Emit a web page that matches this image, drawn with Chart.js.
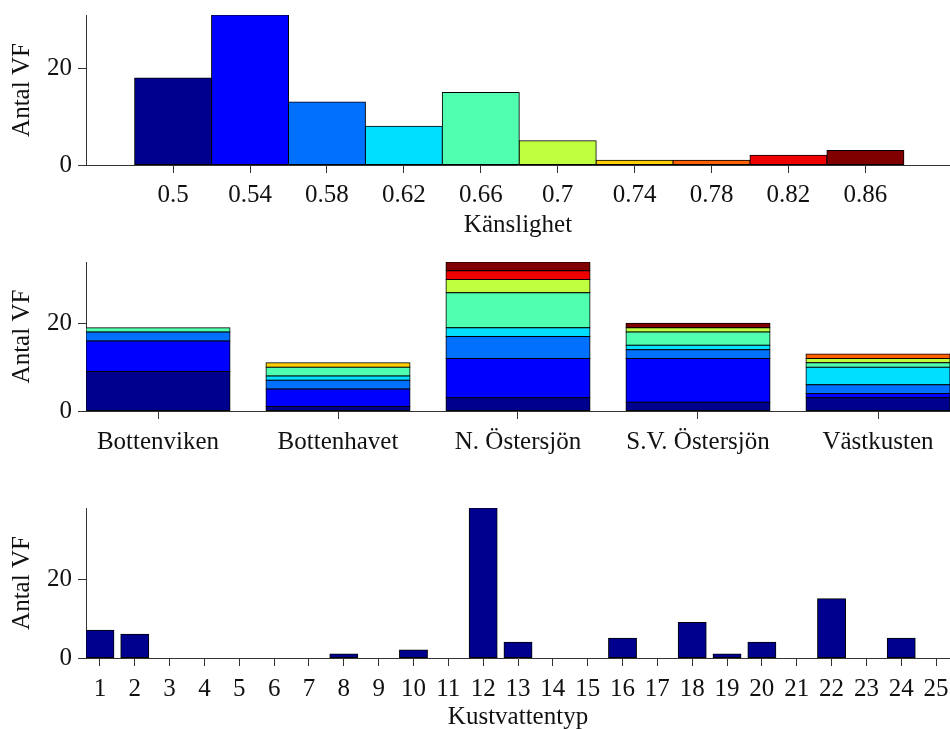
<!DOCTYPE html>
<html>
<head>
<meta charset="utf-8">
<script src="https://cdn.jsdelivr.net/npm/chart.js@4"></script>
<style>
  html, body { margin: 0; padding: 0; background: #fff; overflow: hidden; width: 950px; height: 729px; }
  canvas { position: absolute; left: 0; }
</style>
</head>
<body>
<canvas id="c1" width="950" height="245" style="top:0px"></canvas>
<canvas id="c2" width="950" height="235" style="top:245px"></canvas>
<canvas id="c3" width="950" height="262" style="top:480px"></canvas>
<script>
// ---------- data ----------
const sensValues = [0.5, 0.54, 0.58, 0.62, 0.66, 0.7, 0.74, 0.78, 0.82, 0.86];
const sensLabels = ['0.5', '0.54', '0.58', '0.62', '0.66', '0.7', '0.74', '0.78', '0.82', '0.86'];
const sensCounts = [18, 31, 13, 8, 15, 5, 1, 1, 2, 3];
const sensColors = ['#00008F', '#0000FF', '#0070FF', '#00DFFF', '#50FFAF', '#C0FF40', '#FFCF00', '#FF6000', '#EF0000', '#800000'];

const regions = ['Bottenviken', 'Bottenhavet', 'N. Östersjön', 'S.V. Östersjön', 'Västkusten'];
const reg050 = [9, 1, 3, 2, 3];
const reg054 = [7, 4, 9, 10, 1];
const reg058 = [2, 2, 5, 2, 2];
const reg062 = [0, 1, 2, 1, 4];
const reg066 = [1, 2, 8, 3, 1];
const reg070 = [0, 0, 3, 1, 1];
const reg074 = [0, 1, 0, 0, 0];
const reg078 = [0, 0, 0, 0, 1];
const reg082 = [0, 0, 2, 0, 0];
const reg086 = [0, 0, 2, 1, 0];
const regionStacks = [reg050, reg054, reg058, reg062, reg066, reg070, reg074, reg078, reg082, reg086];

const typeLabels = ['1','2','3','4','5','6','7','8','9','10','11','12','13','14','15','16','17','18','19','20','21','22','23','24','25'];
const typeCounts = [7, 6, 0, 0, 0, 0, 0, 1, 0, 2, 0, 38, 4, 0, 0, 5, 0, 9, 1, 4, 0, 15, 0, 5, 0];

const yTicks = [0, 20];

// ---------- common styling ----------
const FONT = { family: '"Liberation Serif", "Times New Roman", serif', size: 25 };
const AXIS = '#333333';
const TEXT = '#111111';
const EDGE = '#000000';

function yAxis(max) {
  return {
    type: 'linear', min: 0, max: max,
    afterBuildTicks: s => { s.ticks = yTicks.map(v => ({ value: v })); },
    afterFit: s => { s.width = 86; s.paddingTop = 0; s.paddingBottom = 0; },
    ticks: { font: FONT, color: TEXT, padding: 6 },
    grid: { drawOnChartArea: false, drawTicks: true, tickLength: 8, color: AXIS },
    border: { display: true, color: AXIS, width: 1 },
    title: { display: true, text: 'Antal VF', font: FONT, color: TEXT, padding: { top: 7, bottom: 0 } }
  };
}

function xAxis(min, max, values, labels, height, pad, title, titlePad) {
  const ax = {
    type: 'linear', min: min, max: max, offset: false,
    afterBuildTicks: s => { s.ticks = values.map(v => ({ value: v })); },
    afterFit: s => { s.height = height; s.paddingLeft = 0; s.paddingRight = 0; },
    ticks: { font: FONT, color: TEXT, padding: pad, autoSkip: false, maxRotation: 0, minRotation: 0,
             callback: (v, i) => labels[i] },
    grid: { offset: false, drawOnChartArea: false, drawTicks: true, tickLength: 8, color: AXIS },
    border: { display: true, color: AXIS, width: 1 }
  };
  if (title) {
    ax.title = { display: true, text: title, font: FONT, color: TEXT, padding: { top: 0, bottom: titlePad } };
  }
  return ax;
}

const baseOpts = {
  responsive: false,
  animation: false,
  plugins: { legend: { display: false }, tooltip: { enabled: false } }
};

// ---------- chart 1: histogram by sensitivity ----------
new Chart(document.getElementById('c1'), {
  type: 'bar',
  data: {
    datasets: [{
      data: sensValues.map((x, i) => ({ x: x, y: sensCounts[i] })),
      backgroundColor: sensColors,
      borderColor: EDGE,
      borderWidth: 1,
      borderSkipped: false,
      inflateAmount: 0.5,
      barPercentage: 1,
      categoryPercentage: 1
    }]
  },
  options: Object.assign({}, baseOpts, {
    layout: { padding: { top: 15, left: 0, right: 0, bottom: 0 } },
    scales: {
      x: xAxis(0.4547, 0.904, sensValues, sensLabels, 80, 7, 'Känslighet', 5),
      y: yAxis(31)
    }
  })
});

// ---------- chart 2: stacked by region ----------
const regionX = regions.map((r, i) => i + 1);
new Chart(document.getElementById('c2'), {
  type: 'bar',
  data: {
    datasets: regionStacks.map((arr, k) => ({
      data: arr.map((v, i) => ({ x: regionX[i], y: v })),
      backgroundColor: sensColors[k],
      borderColor: EDGE,
      borderWidth: 1,
      borderSkipped: false,
      inflateAmount: 0.5,
      barPercentage: 1,
      categoryPercentage: 0.8
    }))
  },
  options: Object.assign({}, baseOpts, {
    layout: { padding: { top: 17, left: 0, right: 0, bottom: 0 } },
    scales: {
      x: Object.assign(xAxis(0.6, 5.4, regionX, regions, 69, 8, null, 0), { stacked: true }),
      y: Object.assign(yAxis(34), { stacked: true })
    }
  })
});

// ---------- chart 3: by coastal water type ----------
const typeX = typeLabels.map((t, i) => i + 1);
new Chart(document.getElementById('c3'), {
  type: 'bar',
  data: {
    datasets: [{
      data: typeCounts.map((v, i) => ({ x: typeX[i], y: v })),
      backgroundColor: '#00008F',
      borderColor: EDGE,
      borderWidth: 1,
      borderSkipped: false,
      inflateAmount: 0.5,
      barPercentage: 1,
      categoryPercentage: 0.8
    }]
  },
  options: Object.assign({}, baseOpts, {
    layout: { padding: { top: 28, left: 0, right: 0, bottom: 0 } },
    scales: {
      x: xAxis(0.6, 25.4, typeX, typeLabels, 84, 8, 'Kustvattentyp', 9.5),
      y: yAxis(38)
    }
  })
});
</script>
</body>
</html>
